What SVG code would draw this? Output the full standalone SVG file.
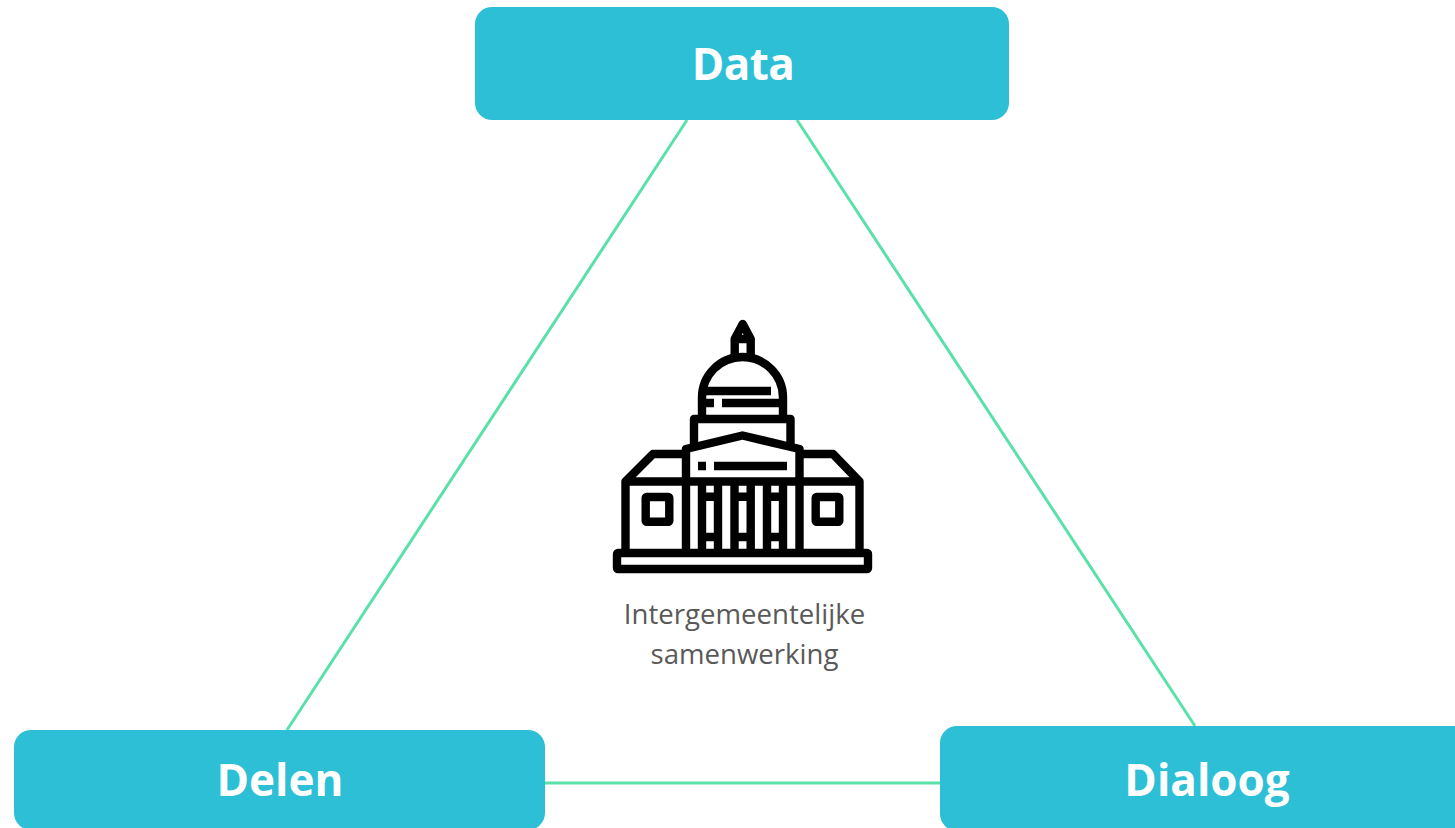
<svg xmlns="http://www.w3.org/2000/svg" width="1455" height="828" viewBox="0 0 1455 828">
<style>
.n{fill:#2cbfd6}
.t{font-family:"Open Sans","Noto Sans",sans-serif;font-weight:700;font-size:44px;fill:#fff;text-anchor:middle}
.c{stroke:#5be0a8;stroke-width:3;fill:none}
.i{stroke:#000;stroke-width:8.4;fill:none;stroke-linejoin:round}
.l{font-family:"Open Sans","Noto Sans",sans-serif;font-size:27.6px;fill:#595959;text-anchor:middle}
</style>
<rect width="1455" height="828" fill="#fff"/>
<g id="connectors">
<path class="c" d="M687 120L287 730"/>
<path class="c" d="M797 120L1195 726"/>
<path class="c" d="M545 783H940"/>
</g>
<g id="node-data"><rect class="n" x="475" y="7" width="534" height="113" rx="17"/><text class="t" x="743" y="80" letter-spacing="-0.6">Data</text></g>
<g id="node-delen"><rect class="n" x="14" y="730" width="531" height="100" rx="17"/><text class="t" x="280" y="796">Delen</text></g>
<g id="node-dialoog"><rect class="n" x="940" y="726" width="535" height="105" rx="17"/><text class="t" x="1207" y="796">Dialoog</text></g>
<g id="node-center">
<g class="i">
<rect x="617" y="553" width="251" height="16" rx="1"/>
<path d="M625.5 549V481.5L653 454H686M859.5 549V481.5L833 454H799.5M625.5 481.5H859.5"/>
<path d="M686 549V449L742.5 435.5L799.5 449V549"/>
<path d="M694 446V419H790.5V446"/>
<path d="M702 419V397.5A40.5 40.5 0 0 1 783 397.5V419"/>
<path d="M702 391H771M722 403H783M702 403H714"/>
<path d="M734.7 357V339L742.7 324L750.7 339V357M734.7 339H750.7"/>
<path d="M702 481V549M718 481V549M734.5 481V549M750.7 481V549M767 481V549M783 481V549"/>
<path d="M702 496.7H718M734.5 496.7H750.7M767 496.7H783M702 537H718M734.5 537H750.7M767 537H783"/>
<path d="M698 466H706M714 466H787"/>
<rect x="645.7" y="497" width="23.6" height="24.7" rx="1"/>
<rect x="815.7" y="497" width="23.6" height="24.7" rx="1"/>
</g>
<text class="l" x="744.5" y="624">Intergemeentelijke</text>
<text class="l" x="744.5" y="664">samenwerking</text>
</g>
</svg>
